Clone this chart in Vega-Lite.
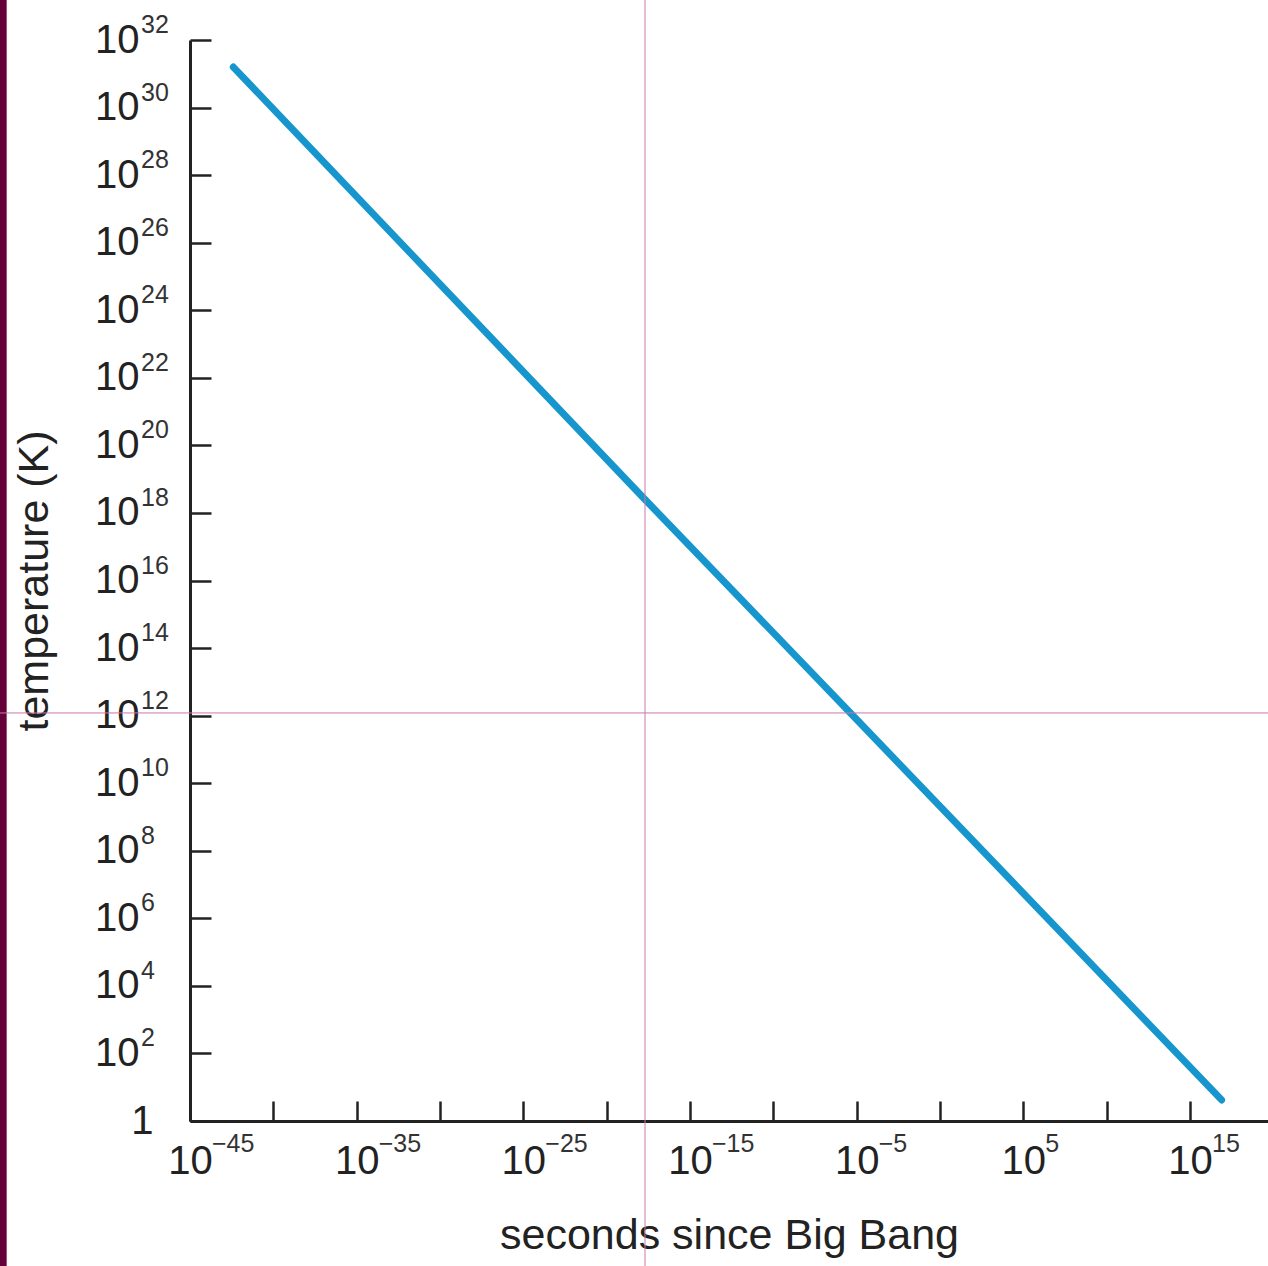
{
  "$schema": "https://vega.github.io/schema/vega-lite/v6.json",
  "width": 1078,
  "height": 1081,
  "autosize": {"type": "none"},
  "padding": {"left": 190, "top": 40, "right": 0, "bottom": 145},
  "background": "#ffffff",
  "config": {
    "view": {"stroke": null},
    "font": "Liberation Sans"
  },
  "datasets": {
    "curve": [
      {"t": 3.98e-43, "T": 1.58e31},
      {"t": 2.0e-18, "T": 2.5e18},
      {"t": 5.0e-6, "T": 1.1e12},
      {"t": 7.9e16, "T": 4.2}
    ],
    "xexp": [
      {"t": 1e-45, "e": "−45"},
      {"t": 1e-35, "e": "−35"},
      {"t": 1e-25, "e": "−25"},
      {"t": 1e-15, "e": "−15"},
      {"t": 1e-5, "e": "−5"},
      {"t": 1e5, "e": "5"},
      {"t": 1e15, "e": "15"}
    ],
    "yexp": [
      {"T": 1e2, "e": "2"},
      {"T": 1e4, "e": "4"},
      {"T": 1e6, "e": "6"},
      {"T": 1e8, "e": "8"},
      {"T": 1e10, "e": "10"},
      {"T": 1e12, "e": "12"},
      {"T": 1e14, "e": "14"},
      {"T": 1e16, "e": "16"},
      {"T": 1e18, "e": "18"},
      {"T": 1e20, "e": "20"},
      {"T": 1e22, "e": "22"},
      {"T": 1e24, "e": "24"},
      {"T": 1e26, "e": "26"},
      {"T": 1e28, "e": "28"},
      {"T": 1e30, "e": "30"},
      {"T": 1e32, "e": "32"}
    ],
    "strip": [{"t": 1e-70, "t2": 1e-56, "T": 1e-10, "T2": 1e40}],
    "vline": [{"t": 2.0e-18, "T": 1e-10, "T2": 1e40}],
    "hline": [{"t": 1e-70, "t2": 1e25, "T": 1.2e12}]
  },
  "layer": [
    {
      "data": {"name": "strip"},
      "mark": {"type": "rect", "color": "#66003a"},
      "encoding": {
        "x": {"field": "t", "type": "quantitative", "scale": {"type": "log", "domain": [1e-45, 4.8e19]}},
        "x2": {"field": "t2"},
        "y": {"field": "T", "type": "quantitative", "scale": {"type": "log", "domain": [1, 1e32]}},
        "y2": {"field": "T2"}
      }
    },
    {
      "data": {"name": "curve"},
      "mark": {"type": "line", "color": "#1696cd", "strokeWidth": 7, "strokeCap": "round"},
      "encoding": {
        "x": {
          "field": "t",
          "type": "quantitative",
          "scale": {"type": "log", "domain": [1e-45, 4.8e19]},
          "axis": {
            "title": "seconds since Big Bang",
            "titleFont": "Liberation Sans",
            "titleFontSize": 43,
            "titleFontWeight": "normal",
            "titleColor": "#222222",
            "titleBaseline": "alphabetic",
            "titleY": 127,
            "values": [1e-45, 1e-40, 1e-35, 1e-30, 1e-25, 1e-20, 1e-15, 1e-10, 1e-5, 1, 1e5, 1e10, 1e15],
            "labelExpr": "['10','','10','','10','','10','','10','','10','','10'][round((log(datum.value)/LN10+45)/5)]",
            "labelFont": "Liberation Sans",
            "labelFontSize": 40,
            "labelColor": "#222222",
            "labelAlign": "center",
            "labelBaseline": "alphabetic",
            "labelDx": -4,
            "labelPadding": 72,
            "labelOverlap": false,
            "labelFlush": false,
            "labelBound": false,
            "tickSize": -20,
            "tickWidth": 2.5,
            "tickColor": "#222222",
            "domainColor": "#222222",
            "domainWidth": 3,
            "grid": false
          }
        },
        "y": {
          "field": "T",
          "type": "quantitative",
          "scale": {"type": "log", "domain": [1, 1e32]},
          "axis": {
            "title": "temperature (K)",
            "titleFont": "Liberation Sans",
            "titleFontSize": 43,
            "titleFontWeight": "normal",
            "titleColor": "#222222",
            "titleBaseline": "alphabetic",
            "titleX": -143,
            "values": [1, 1e2, 1e4, 1e6, 1e8, 1e10, 1e12, 1e14, 1e16, 1e18, 1e20, 1e22, 1e24, 1e26, 1e28, 1e30, 1e32],
            "labelExpr": "datum.value < 10 ? '1' : '10'",
            "labelFont": "Liberation Sans",
            "labelFontSize": 40,
            "labelColor": "#222222",
            "labelAlign": "right",
            "labelBaseline": "middle",
            "labelPadding": {"condition": {"test": "datum.value < 10", "value": 58}, "value": 72},
            "labelOverlap": false,
            "labelFlush": false,
            "labelBound": false,
            "tickSize": -21,
            "tickWidth": 2.5,
            "tickColor": "#222222",
            "domainColor": "#222222",
            "domainWidth": 3,
            "grid": false
          }
        }
      }
    },
    {
      "data": {"name": "xexp"},
      "mark": {"type": "text", "font": "Liberation Sans", "fontSize": 25, "color": "#333333", "align": "left", "baseline": "alphabetic", "dx": 22, "dy": 31},
      "encoding": {
        "x": {"field": "t", "type": "quantitative", "scale": {"type": "log", "domain": [1e-45, 4.8e19]}},
        "y": {"datum": 1, "type": "quantitative", "scale": {"type": "log", "domain": [1, 1e32]}},
        "text": {"field": "e"}
      }
    },
    {
      "data": {"name": "yexp"},
      "mark": {"type": "text", "font": "Liberation Sans", "fontSize": 25, "color": "#333333", "align": "left", "baseline": "alphabetic", "dx": -49, "dy": -7},
      "encoding": {
        "x": {"datum": 1e-45, "type": "quantitative", "scale": {"type": "log", "domain": [1e-45, 4.8e19]}},
        "y": {"field": "T", "type": "quantitative", "scale": {"type": "log", "domain": [1, 1e32]}},
        "text": {"field": "e"}
      }
    },
    {
      "data": {"name": "vline"},
      "mark": {"type": "rule", "color": "#c87aa8", "strokeWidth": 1},
      "encoding": {
        "x": {"field": "t", "type": "quantitative", "scale": {"type": "log", "domain": [1e-45, 4.8e19]}},
        "y": {"field": "T", "type": "quantitative", "scale": {"type": "log", "domain": [1, 1e32]}},
        "y2": {"field": "T2"}
      }
    },
    {
      "data": {"name": "hline"},
      "mark": {"type": "rule", "color": "#c87aa8", "strokeWidth": 1},
      "encoding": {
        "x": {"field": "t", "type": "quantitative", "scale": {"type": "log", "domain": [1e-45, 4.8e19]}},
        "x2": {"field": "t2"},
        "y": {"field": "T", "type": "quantitative", "scale": {"type": "log", "domain": [1, 1e32]}}
      }
    }
  ]
}
